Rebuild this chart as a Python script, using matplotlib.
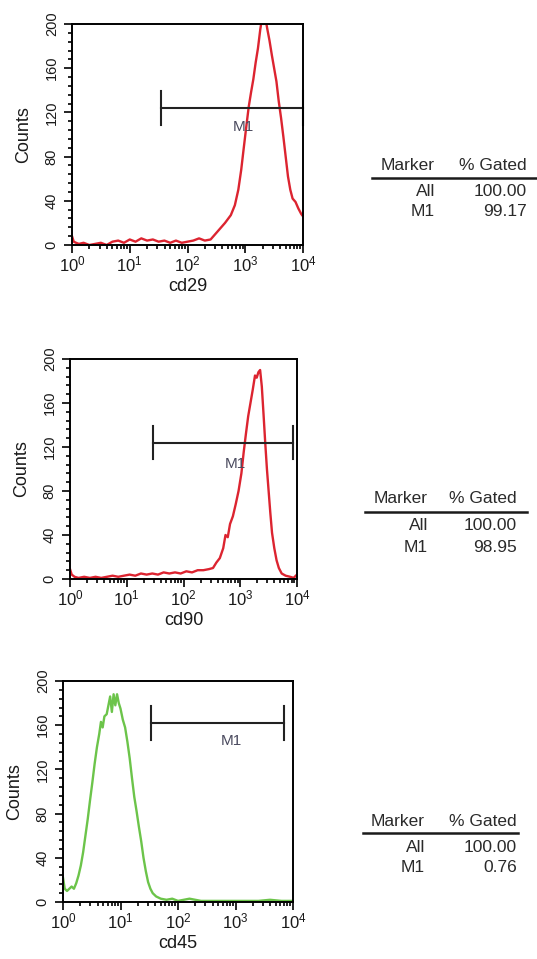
import matplotlib.pyplot as plt
import numpy as np

plt.rcParams['font.family'] = ['Liberation Sans', 'DejaVu Sans']
plt.rcParams['mathtext.fontset'] = 'custom'
plt.rcParams['mathtext.rm'] = 'Liberation Sans'
plt.rcParams['mathtext.it'] = 'Liberation Sans:italic'

# histogram traces: log10 of intensity, counts
cd29_exp = [0.00, 0.03, 0.07, 0.12, 0.2, 0.3, 0.4, 0.5, 0.6, 0.7, 0.8, 0.9, 1.0, 1.1, 1.2,
            1.3, 1.4, 1.5, 1.6, 1.7, 1.8, 1.9, 2.0, 2.1, 2.2, 2.3, 2.4, 2.45, 2.55, 2.65,
            2.75, 2.82, 2.88, 2.93, 2.97, 3.02, 3.06, 3.1, 3.14, 3.18, 3.22, 3.26, 3.29,
            3.32, 3.35, 3.38, 3.42, 3.46, 3.5, 3.54, 3.58, 3.62, 3.66, 3.7, 3.74, 3.78,
            3.82, 3.87, 3.92, 3.97, 4.0]
cd29_cnt = [8, 3, 2, 1, 2, 0, 1, 2, 0, 3, 4, 2, 5, 3, 6,
            4, 5, 3, 4, 2, 4, 2, 3, 4, 6, 4, 5, 8, 14, 20,
            27, 36, 50, 68, 86, 108, 125, 138, 150, 165, 178, 195, 205,
            200, 205, 196, 185, 172, 160, 148, 130, 115, 98, 80, 62, 50,
            42, 39, 33, 28, 26]

cd90_exp = [0.0, 0.03, 0.08, 0.15, 0.25, 0.35, 0.45, 0.55, 0.65, 0.75, 0.85, 0.95, 1.05,
            1.15, 1.25, 1.35, 1.45, 1.55, 1.65, 1.75, 1.85, 1.95, 2.05, 2.15, 2.25, 2.35,
            2.45, 2.52, 2.58, 2.64, 2.7, 2.74, 2.78, 2.82, 2.87, 2.92, 2.97, 3.02, 3.06,
            3.1, 3.14, 3.18, 3.22, 3.26, 3.29, 3.32, 3.35, 3.38, 3.41, 3.44, 3.47, 3.5,
            3.53, 3.56, 3.6, 3.64, 3.68, 3.73, 3.8, 3.88, 3.94, 4.0]
cd90_cnt = [9, 4, 2, 1, 2, 1, 2, 1, 2, 3, 2, 3, 4,
            3, 5, 4, 5, 4, 6, 5, 6, 5, 7, 6, 8, 8,
            9, 10, 15, 19, 28, 40, 38, 50, 57, 68, 80, 96, 115,
            132, 148, 160, 172, 185, 183, 188, 190, 175, 150, 124, 100, 80,
            60, 42, 28, 17, 10, 5, 3, 2, 1, 4]

cd45_exp = [0.0, 0.03, 0.07, 0.11, 0.15, 0.19, 0.23, 0.27, 0.31, 0.35, 0.39, 0.43, 0.47,
            0.51, 0.55, 0.59, 0.63, 0.66, 0.69, 0.72, 0.76, 0.79, 0.82, 0.85, 0.88, 0.91,
            0.94, 0.97, 1.0, 1.04, 1.08, 1.12, 1.16, 1.2, 1.24, 1.28, 1.32, 1.36, 1.4,
            1.44, 1.48, 1.52, 1.56, 1.62, 1.7, 1.8, 1.9, 2.0, 2.1, 2.2, 2.3, 2.4, 2.6,
            2.8, 3.0, 3.2, 3.4, 3.6, 3.8, 4.0]
cd45_cnt = [22, 12, 10, 12, 14, 12, 17, 24, 33, 45, 60, 75, 92,
            108, 125, 140, 152, 163, 158, 168, 170, 178, 186, 172, 188, 178,
            188, 180, 175, 165, 158, 145, 130, 112, 95, 82, 68, 55, 40,
            28, 18, 12, 8, 5, 3, 2, 3, 1, 2, 3, 2, 1, 1,
            1, 1, 1, 1, 2, 1, 1]

# M1 gates: start exponent, end exponent, height
gate_start = [1.54, 1.46, 1.53]
gate_end = [4.0, 3.93, 3.84]
gate_y = [124, 124, 162]
gate_label_pos = [(2.96, 107), (2.91, 105), (2.92, 146)]

xlabels = ["cd29", "cd90", "cd45"]
colors = ['#dc2430', '#dc2430', '#6cc44a']
gated_all = ["100.00", "100.00", "100.00"]
gated_m1 = ["99.17", "98.95", "0.76"]

W, H = 537, 959
fig = plt.figure(figsize=(W / 100, H / 100), dpi=100)

# axes boxes in pixels: left, top, right, bottom
boxes = [(72, 24, 303, 245), (70, 359, 297, 579), (63, 681, 293, 902)]
curves = [(cd29_exp, cd29_cnt), (cd90_exp, cd90_cnt), (cd45_exp, cd45_cnt)]

for i in range(3):
    l, t, r, b = boxes[i]
    ax = fig.add_axes([l / W, 1 - b / H, (r - l) / W, (b - t) / H])
    ex, cn = curves[i]
    ax.plot(10 ** np.array(ex), cn, color=colors[i], lw=1.7)
    ax.set_xscale('log')
    ax.set_xlim(1, 1e4)
    ax.set_ylim(0, 200)
    ax.set_yticks([0, 40, 80, 120, 160, 200])
    ax.set_yticks(np.arange(0, 201, 8), minor=True)
    ax.set_xticks([1, 10, 100, 1000, 10000])
    ax.set_xticklabels([r'$10^{%d}$' % k for k in range(5)], fontsize=12, color='#1a1a1a')
    for s in ax.spines.values():
        s.set_linewidth(1.4)
    ax.tick_params(which='both', direction='out', top=False, right=False, width=1.2)
    ax.tick_params(which='major', length=5.5)
    ax.tick_params(which='minor', length=3)
    ax.tick_params(axis='x', pad=1.5)
    ax.tick_params(axis='y', labelsize=10.5, labelrotation=90, pad=4, labelcolor='#1a1a1a')
    for lab in ax.get_yticklabels():
        lab.set_va('center')

    ax.set_ylabel("Counts", fontsize=13, color='#1a1a1a')
    ax.yaxis.set_label_coords(-40 / (r - l), 0.5)
    ax.set_xlabel(xlabels[i], fontsize=13, color='#1a1a1a')
    ax.xaxis.set_label_coords(0.5, -0.15)

    # gate marker
    x0, x1 = 10 ** gate_start[i], 10 ** gate_end[i]
    y = gate_y[i]
    ax.plot([x0, x1], [y, y], color='#222222', lw=1.5, clip_on=False)
    ax.plot([x0, x0], [y - 15, y + 15], color='#222222', lw=1.5, clip_on=False)
    ax.plot([x1, x1], [y - 15, y + 15], color='#222222', lw=1.5, clip_on=False)
    lx, ly = gate_label_pos[i]
    ax.text(10 ** lx, ly, "M1", fontsize=11, color='#4a4a5e', ha='center', va='center')

# statistics tables, positions in pixels
tables = [
    # marker right, gated right, line left, line right, header y, line y, row1 y, row2 y
    (435, 527, 372, 537, 165, 178, 191, 211),
    (428, 517, 365, 527, 498, 512, 526, 548),
    (425, 517, 363, 518, 821, 833, 847, 867),
]
tc = '#2a2a2a'
fs = 12.5
for i in range(3):
    mr, gr, ll, lr, hy, liny, r1, r2 = tables[i]
    fig.text(mr / W, 1 - hy / H, "Marker", fontsize=fs, color=tc, ha='right', va='center')
    fig.text(gr / W, 1 - hy / H, "% Gated", fontsize=fs, color=tc, ha='right', va='center')
    fig.add_artist(plt.Line2D([ll / W, lr / W], [1 - liny / H, 1 - liny / H],
                              color='#1a1a1a', lw=1.8))
    fig.text(mr / W, 1 - r1 / H, "All", fontsize=fs, color=tc, ha='right', va='center')
    fig.text(gr / W, 1 - r1 / H, gated_all[i], fontsize=fs, color=tc, ha='right', va='center')
    fig.text(mr / W, 1 - r2 / H, "M1", fontsize=fs, color=tc, ha='right', va='center')
    fig.text(gr / W, 1 - r2 / H, gated_m1[i], fontsize=fs, color=tc, ha='right', va='center')

fig.savefig("out.png", dpi=100, facecolor='white')
